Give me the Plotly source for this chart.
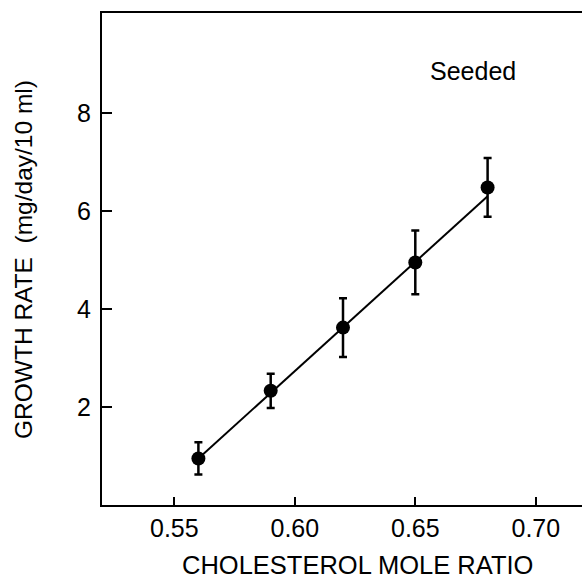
import plotly.graph_objects as go

# Data
ratio = [0.56, 0.59, 0.62, 0.65, 0.68]
growth = [0.95, 2.33, 3.62, 4.95, 6.48]
err = [0.33, 0.35, 0.60, 0.65, 0.60]
fit_x = [0.56, 0.68]
fit_y = [0.95, 6.30]
x_ticks = [0.55, 0.60, 0.65, 0.70]
x_tick_labels = ["0.55", "0.60", "0.65", "0.70"]
y_ticks = [2, 4, 6, 8]

FONT = "Liberation Sans, Arial, Helvetica, sans-serif"

fig = go.Figure()
fig.add_trace(go.Scatter(x=fit_x, y=fit_y, mode="lines",
                         line=dict(color="black", width=2), showlegend=False))
fig.add_trace(go.Scatter(
    x=ratio, y=growth, mode="markers",
    marker=dict(color="black", size=14, symbol="circle"),
    error_y=dict(type="data", array=err, visible=True, color="black",
                 thickness=2.5, width=4),
    showlegend=False))

fig.add_annotation(x=0.674, y=8.86, xref="x", yref="y", text="Seeded",
                   showarrow=False, xanchor="center", yanchor="middle",
                   font=dict(family=FONT, size=25, color="black"))
fig.add_annotation(x=(357 - 102) / 480, y=-60 / 492, xref="paper", yref="paper",
                   text="CHOLESTEROL MOLE RATIO", showarrow=False,
                   xanchor="center", yanchor="middle",
                   font=dict(family=FONT, size=25.5, color="black"))
fig.add_annotation(x=-79 / 480, y=(505 - 260) / 492, xref="paper", yref="paper",
                   text="GROWTH RATE  (mg/day/10 ml)", showarrow=False, textangle=-90,
                   xanchor="center", yanchor="middle",
                   font=dict(family=FONT, size=24.5, color="black"))

fig.update_layout(
    width=582, height=581,
    margin=dict(l=102, r=0, t=13, b=76),
    paper_bgcolor="white", plot_bgcolor="white",
    font=dict(family=FONT, size=25, color="black"),
    xaxis=dict(range=[0.52, 0.52 + 480 / 2410], tickvals=x_ticks, ticktext=x_tick_labels,
               ticks="inside", ticklen=8, tickwidth=2, tickcolor="black",
               tickfont=dict(family=FONT, size=25, color="black"),
               showline=True, linecolor="black", linewidth=2, mirror=True,
               showgrid=False, zeroline=False),
    yaxis=dict(range=[0, 10.04], tickvals=y_ticks,
               ticks="inside", ticklen=10, tickwidth=2, tickcolor="black",
               tickfont=dict(family=FONT, size=25, color="black"),
               ticklabelstandoff=4,
               showline=True, linecolor="black", linewidth=2, mirror=False,
               showgrid=False, zeroline=False),
)

fig.write_html("out.html")
